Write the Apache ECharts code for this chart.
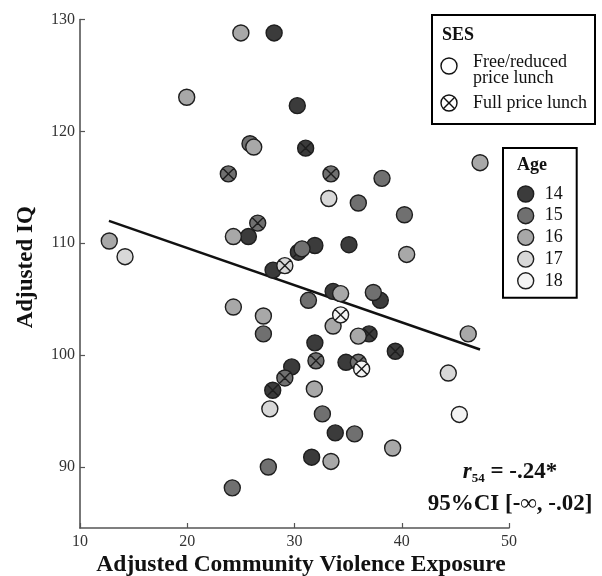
<!DOCTYPE html>
<html>
<head>
<meta charset="utf-8">
<script src="https://cdn.jsdelivr.net/npm/echarts@6/dist/echarts.min.js"></script>
<style>html,body{margin:0;padding:0;background:#fff;}#c{width:602px;height:576px;}</style>
</head>
<body>
<div id="c"></div>
<script>
// Data: [violence exposure, IQ, age, full price lunch (1) / free-reduced (0)]
var ages = ['14', '15', '16', '17', '18'];
var ageColors = ['#3b3b3b', '#707070', '#a8a8a8', '#d8d8d8', '#f4f4f4'];
var pointX = [25.0, 28.1, 19.95, 30.26, 26.2, 25.85, 31.04, 23.83, 33.4, 38.16, 33.2, 35.95, 47.3, 40.25, 40.46,
  12.73, 14.2, 24.3, 25.7, 26.57, 28.0, 31.9, 35.08, 30.7, 30.36, 29.1, 34.3, 33.6, 31.3, 37.35,
  38.0, 34.3, 33.6, 35.95, 36.95, 46.2, 24.3, 27.1, 27.1, 31.9, 39.4, 32.0, 34.8, 35.95, 36.26,
  29.74, 29.1, 27.97, 27.7, 31.85, 32.6, 33.8, 35.6, 39.15, 31.6, 33.4, 27.56, 44.34, 45.37, 24.2];
var pointY = [128.8, 128.8, 123.05, 122.3, 118.6, 118.9, 118.5, 116.2, 116.2, 115.8, 114.0, 113.6, 117.2, 112.55, 109.0,
  110.2, 108.8, 110.6, 110.6, 111.8, 107.6, 109.8, 109.87, 109.5, 109.2, 108.0, 105.5, 105.7, 104.9, 105.6,
  104.9, 103.6, 102.6, 101.7, 101.9, 101.9, 104.3, 103.5, 101.9, 101.1, 100.35, 99.5, 99.36, 99.36, 98.77,
  98.95, 97.96, 96.86, 95.2, 96.98, 94.75, 93.05, 92.96, 91.7, 90.88, 90.5, 90.0, 98.4, 94.7, 88.14];
var pointAge = [16, 14, 16, 14, 16, 15, 14, 15, 15, 15, 17, 15, 16, 15, 16,
  16, 17, 16, 14, 15, 14, 14, 14, 15, 14, 17, 16, 14, 15, 15,
  14, 18, 16, 16, 14, 16, 16, 16, 15, 14, 14, 15, 14, 15, 18,
  14, 15, 14, 17, 16, 15, 14, 15, 16, 14, 16, 15, 17, 18, 15];
var pointFull = [0, 0, 0, 0, 0, 0, 1, 1, 1, 0, 0, 0, 0, 0, 0,
  0, 0, 0, 0, 1, 0, 0, 0, 0, 1, 1, 0, 0, 0, 0,
  0, 1, 0, 0, 1, 0, 0, 0, 0, 0, 1, 1, 0, 1, 1,
  0, 1, 1, 0, 0, 0, 0, 0, 0, 0, 0, 0, 0, 0, 0];
// regression line endpoints
var fitX = [12.7, 47.3];
var fitY = [112.0, 100.5];
var xTicks = [10, 20, 30, 40, 50];
var yTicks = [90, 100, 110, 120, 130];

var SERIF = '"Liberation Serif", "DejaVu Serif", serif';
var crossPath = 'path://M0,50 A50,50 0 1,1 100,50 A50,50 0 1,1 0,50 Z M14.6,14.6 L85.4,85.4 M85.4,14.6 L14.6,85.4';

var series = [{
  type: 'line',
  data: [[fitX[0], fitY[0]], [fitX[1], fitY[1]]],
  symbol: 'none',
  lineStyle: { color: '#111', width: 2.5 },
  z: 1,
  silent: true
}];
ages.forEach(function (a, ai) {
  var data = [];
  for (var i = 0; i < pointX.length; i++) {
    if (String(pointAge[i]) !== a) continue;
    var item = { value: [pointX[i], pointY[i]] };
    if (pointFull[i]) item.symbol = crossPath;
    data.push(item);
  }
  series.push({
    type: 'scatter',
    name: a,
    data: data,
    symbol: 'circle',
    symbolSize: 16,
    itemStyle: { color: ageColors[ai], borderColor: '#1e1e1e', borderWidth: 1.4, opacity: 1 },
    z: 2
  });
});

var chart = echarts.init(document.getElementById('c'), null, { renderer: 'canvas' });
chart.setOption({
  animation: false,
  backgroundColor: '#fff',
  grid: { left: 80, right: 93, top: 19.5, bottom: 48, containLabel: false, outerBoundsMode: 'none' },
  xAxis: {
    type: 'value', min: 10, max: 50, interval: 10,
    name: 'Adjusted Community Violence Exposure', nameLocation: 'middle', nameGap: 25, nameMoveOverlap: false,
    nameTextStyle: { fontFamily: SERIF, fontWeight: 'bold', fontSize: 23.5, color: '#111', padding: [0, 0, 0, 13] },
    axisLine: { lineStyle: { color: '#555', width: 1.6 } },
    axisTick: { inside: true, length: 5, lineStyle: { color: '#555', width: 1.2 } },
    axisLabel: { fontFamily: SERIF, fontSize: 16, color: '#333', margin: 6 },
    splitLine: { show: false }
  },
  yAxis: {
    type: 'value', min: 84.55, max: 130,
    name: 'Adjusted IQ', nameLocation: 'middle', nameGap: 42,
    nameTextStyle: { fontFamily: SERIF, fontWeight: 'bold', fontSize: 23, color: '#111', padding: [0, 0, 0, 13] },
    axisLine: { lineStyle: { color: '#555', width: 1.6 } },
    axisTick: { inside: true, length: 5, customValues: yTicks, lineStyle: { color: '#555', width: 1.2 } },
    axisLabel: { fontFamily: SERIF, fontSize: 16, color: '#333', margin: 5, customValues: yTicks, padding: [0, 0, 6, 0] },
    splitLine: { show: false }
  },
  legend: {
    data: ages,
    orient: 'vertical',
    left: 503, top: 148,
    padding: [37, 14, 8, 14],
    itemWidth: 16, itemHeight: 16, itemGap: 3.7,
    icon: 'circle',
    borderColor: '#000', borderWidth: 2,
    backgroundColor: '#fff',
    itemStyle: { borderColor: '#1e1e1e', borderWidth: 1.4 },
    textStyle: { fontFamily: SERIF, fontSize: 18, color: '#111', padding: [0, 0, 0, 6] },
    selectedMode: false
  },
  graphic: [
    { type: 'text', left: 517, top: 156, z: 100, style: { text: 'Age', fontFamily: SERIF, fontWeight: 'bold', fontSize: 18, fill: '#111' } },
    { type: 'rect', shape: { x: 432, y: 15, width: 163, height: 109 }, style: { fill: '#fff', stroke: '#000', lineWidth: 2 }, z: 90 },
    { type: 'text', x: 442, y: 35, z: 100, style: { text: 'SES', fontFamily: SERIF, fontWeight: 'bold', fontSize: 18, fill: '#111', verticalAlign: 'middle' } },
    { type: 'circle', shape: { cx: 449, cy: 66, r: 8 }, style: { fill: '#fff', stroke: '#111', lineWidth: 1.4 }, z: 100 },
    { type: 'text', x: 473, y: 70, z: 100, style: { text: 'Free/reduced\nprice lunch', fontFamily: SERIF, fontSize: 18, lineHeight: 16, fill: '#111', verticalAlign: 'middle' } },
    { type: 'circle', shape: { cx: 449, cy: 103, r: 8 }, style: { fill: '#fff', stroke: '#111', lineWidth: 1.4 }, z: 100 },
    { type: 'line', shape: { x1: 443.3, y1: 97.3, x2: 454.7, y2: 108.7 }, style: { stroke: '#111', lineWidth: 1.4 }, z: 101 },
    { type: 'line', shape: { x1: 454.7, y1: 97.3, x2: 443.3, y2: 108.7 }, style: { stroke: '#111', lineWidth: 1.4 }, z: 101 },
    { type: 'text', x: 473, y: 103, z: 100, style: { text: 'Full price lunch', fontFamily: SERIF, fontSize: 18, fill: '#111', verticalAlign: 'middle' } },
    { type: 'text', x: 510, y: 472, z: 100, style: {
        text: '{r|r}{s|54}{t| = -.24*}', align: 'center', verticalAlign: 'middle',
        rich: {
          r: { fontFamily: SERIF, fontWeight: 'bold', fontStyle: 'italic', fontSize: 23, lineHeight: 26, fill: '#111', verticalAlign: 'middle' },
          s: { fontFamily: SERIF, fontWeight: 'bold', fontSize: 13, lineHeight: 13, fill: '#111', verticalAlign: 'bottom' },
          t: { fontFamily: SERIF, fontWeight: 'bold', fontSize: 23, lineHeight: 26, fill: '#111', verticalAlign: 'middle' }
        } } },
    { type: 'text', x: 510, y: 504, z: 100, style: { text: '95%CI [-\u221E, -.02]', align: 'center', verticalAlign: 'middle', fontFamily: SERIF, fontWeight: 'bold', fontSize: 23, fill: '#111' } }
  ],
  series: series
});
</script>
</body>
</html>
